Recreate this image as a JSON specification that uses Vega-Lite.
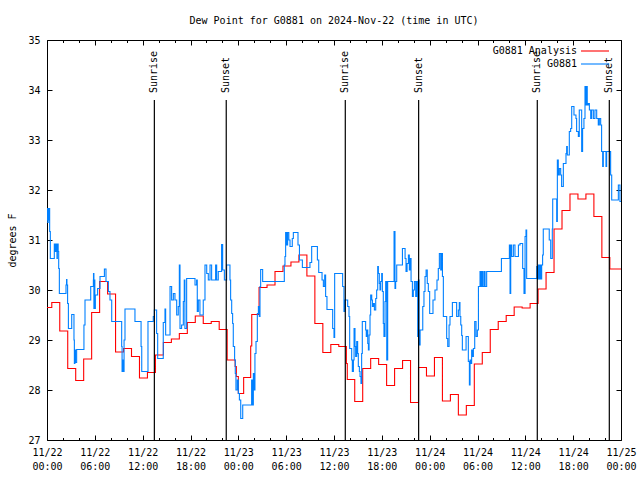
{
  "$schema": "https://vega.github.io/schema/vega-lite/v6.json",
  "width": 574,
  "height": 400,
  "autosize": "none",
  "padding": {"left": 47, "top": 40, "right": 19, "bottom": 40},
  "background": "white",
  "title": {"text": "Dew Point for G0881 on 2024-Nov-22 (time in UTC)", "font": "DejaVu Sans Mono", "fontSize": 10, "fontWeight": "normal", "color": "black", "anchor": "middle", "offset": 9},
  "config": {
    "view": {"stroke": "black", "strokeWidth": 1},
    "axis": {"labelFont": "DejaVu Sans Mono", "labelFontSize": 10, "labelColor": "black", "tickColor": "black", "titleFont": "DejaVu Sans Mono", "titleFontSize": 10, "titleFontWeight": "normal", "titleColor": "black", "domain": false, "grid": false},
    "legend": {"labelFont": "DejaVu Sans Mono", "labelFontSize": 10, "labelColor": "black"}
  },
  "datasets": {
    "analysis": [
      {"time": "2024-11-22T00:00Z", "dewpoint": 29.65},
      {"time": "2024-11-22T00:36Z", "dewpoint": 29.75},
      {"time": "2024-11-22T01:36Z", "dewpoint": 29.18},
      {"time": "2024-11-22T02:36Z", "dewpoint": 28.43},
      {"time": "2024-11-22T03:36Z", "dewpoint": 28.19},
      {"time": "2024-11-22T04:36Z", "dewpoint": 28.62},
      {"time": "2024-11-22T05:36Z", "dewpoint": 29.55},
      {"time": "2024-11-22T06:36Z", "dewpoint": 30.17},
      {"time": "2024-11-22T07:36Z", "dewpoint": 29.92},
      {"time": "2024-11-22T08:36Z", "dewpoint": 28.76},
      {"time": "2024-11-22T09:36Z", "dewpoint": 28.83},
      {"time": "2024-11-22T10:36Z", "dewpoint": 28.67},
      {"time": "2024-11-22T11:36Z", "dewpoint": 28.24},
      {"time": "2024-11-22T12:36Z", "dewpoint": 28.35},
      {"time": "2024-11-22T13:36Z", "dewpoint": 28.70},
      {"time": "2024-11-22T14:36Z", "dewpoint": 28.95},
      {"time": "2024-11-22T15:36Z", "dewpoint": 29.02},
      {"time": "2024-11-22T16:36Z", "dewpoint": 29.13},
      {"time": "2024-11-22T17:36Z", "dewpoint": 29.35},
      {"time": "2024-11-22T18:36Z", "dewpoint": 29.48},
      {"time": "2024-11-22T19:36Z", "dewpoint": 29.33},
      {"time": "2024-11-22T20:36Z", "dewpoint": 29.37},
      {"time": "2024-11-22T21:36Z", "dewpoint": 29.21},
      {"time": "2024-11-22T22:36Z", "dewpoint": 28.60},
      {"time": "2024-11-22T23:36Z", "dewpoint": 28.47},
      {"time": "2024-11-22T23:45Z", "dewpoint": 28.27},
      {"time": "2024-11-23T00:00Z", "dewpoint": 27.93},
      {"time": "2024-11-23T00:40Z", "dewpoint": 28.25},
      {"time": "2024-11-23T01:33Z", "dewpoint": 28.88},
      {"time": "2024-11-23T01:41Z", "dewpoint": 29.51},
      {"time": "2024-11-23T02:36Z", "dewpoint": 30.05},
      {"time": "2024-11-23T03:36Z", "dewpoint": 30.10},
      {"time": "2024-11-23T04:36Z", "dewpoint": 30.37},
      {"time": "2024-11-23T05:36Z", "dewpoint": 30.48},
      {"time": "2024-11-23T06:36Z", "dewpoint": 30.56},
      {"time": "2024-11-23T07:36Z", "dewpoint": 30.70},
      {"time": "2024-11-23T08:36Z", "dewpoint": 30.28},
      {"time": "2024-11-23T09:36Z", "dewpoint": 29.33},
      {"time": "2024-11-23T10:36Z", "dewpoint": 28.75},
      {"time": "2024-11-23T11:36Z", "dewpoint": 28.91},
      {"time": "2024-11-23T12:36Z", "dewpoint": 28.87},
      {"time": "2024-11-23T13:33Z", "dewpoint": 28.53},
      {"time": "2024-11-23T13:40Z", "dewpoint": 28.21},
      {"time": "2024-11-23T14:36Z", "dewpoint": 27.77},
      {"time": "2024-11-23T15:36Z", "dewpoint": 28.43},
      {"time": "2024-11-23T16:36Z", "dewpoint": 28.63},
      {"time": "2024-11-23T17:36Z", "dewpoint": 28.51},
      {"time": "2024-11-23T18:36Z", "dewpoint": 28.09},
      {"time": "2024-11-23T19:36Z", "dewpoint": 28.43},
      {"time": "2024-11-23T20:36Z", "dewpoint": 28.59},
      {"time": "2024-11-23T21:36Z", "dewpoint": 27.75},
      {"time": "2024-11-23T22:36Z", "dewpoint": 28.45},
      {"time": "2024-11-23T23:36Z", "dewpoint": 28.28},
      {"time": "2024-11-24T00:36Z", "dewpoint": 28.65},
      {"time": "2024-11-24T01:36Z", "dewpoint": 27.78},
      {"time": "2024-11-24T02:36Z", "dewpoint": 27.91},
      {"time": "2024-11-24T03:36Z", "dewpoint": 27.50},
      {"time": "2024-11-24T04:36Z", "dewpoint": 27.69},
      {"time": "2024-11-24T05:36Z", "dewpoint": 28.52},
      {"time": "2024-11-24T06:36Z", "dewpoint": 28.75},
      {"time": "2024-11-24T07:36Z", "dewpoint": 29.21},
      {"time": "2024-11-24T08:36Z", "dewpoint": 29.37},
      {"time": "2024-11-24T09:36Z", "dewpoint": 29.49},
      {"time": "2024-11-24T10:36Z", "dewpoint": 29.66},
      {"time": "2024-11-24T11:36Z", "dewpoint": 29.64},
      {"time": "2024-11-24T12:36Z", "dewpoint": 29.73},
      {"time": "2024-11-24T13:36Z", "dewpoint": 30.02},
      {"time": "2024-11-24T14:36Z", "dewpoint": 30.35},
      {"time": "2024-11-24T15:36Z", "dewpoint": 31.22},
      {"time": "2024-11-24T16:36Z", "dewpoint": 31.59},
      {"time": "2024-11-24T17:36Z", "dewpoint": 31.92},
      {"time": "2024-11-24T18:36Z", "dewpoint": 31.82},
      {"time": "2024-11-24T19:36Z", "dewpoint": 31.92},
      {"time": "2024-11-24T20:36Z", "dewpoint": 31.47},
      {"time": "2024-11-24T21:36Z", "dewpoint": 30.65},
      {"time": "2024-11-24T22:36Z", "dewpoint": 30.42},
      {"time": "2024-11-25T00:00Z", "dewpoint": 30.42}
    ],
    "observed": [
      {"time": "2024-11-22T00:00Z", "dewpoint": 31.4},
      {"time": "2024-11-22T00:03Z", "dewpoint": 31.63},
      {"time": "2024-11-22T00:06Z", "dewpoint": 31.35},
      {"time": "2024-11-22T00:09Z", "dewpoint": 31.63},
      {"time": "2024-11-22T00:12Z", "dewpoint": 31.4},
      {"time": "2024-11-22T00:15Z", "dewpoint": 31.63},
      {"time": "2024-11-22T00:20Z", "dewpoint": 31.17},
      {"time": "2024-11-22T00:25Z", "dewpoint": 30.63},
      {"time": "2024-11-22T00:55Z", "dewpoint": 30.92},
      {"time": "2024-11-22T01:02Z", "dewpoint": 30.77},
      {"time": "2024-11-22T01:08Z", "dewpoint": 30.92},
      {"time": "2024-11-22T01:15Z", "dewpoint": 30.63},
      {"time": "2024-11-22T01:18Z", "dewpoint": 30.92},
      {"time": "2024-11-22T01:24Z", "dewpoint": 30.77},
      {"time": "2024-11-22T01:28Z", "dewpoint": 30.43},
      {"time": "2024-11-22T01:33Z", "dewpoint": 29.93},
      {"time": "2024-11-22T02:23Z", "dewpoint": 30.1},
      {"time": "2024-11-22T02:27Z", "dewpoint": 30.21},
      {"time": "2024-11-22T02:30Z", "dewpoint": 30.1},
      {"time": "2024-11-22T02:35Z", "dewpoint": 29.73},
      {"time": "2024-11-22T02:41Z", "dewpoint": 29.23},
      {"time": "2024-11-22T03:06Z", "dewpoint": 29.51},
      {"time": "2024-11-22T03:23Z", "dewpoint": 29.0},
      {"time": "2024-11-22T03:26Z", "dewpoint": 28.53},
      {"time": "2024-11-22T03:30Z", "dewpoint": 28.8},
      {"time": "2024-11-22T03:34Z", "dewpoint": 28.55},
      {"time": "2024-11-22T03:43Z", "dewpoint": 28.81},
      {"time": "2024-11-22T04:38Z", "dewpoint": 29.3},
      {"time": "2024-11-22T04:46Z", "dewpoint": 29.8},
      {"time": "2024-11-22T05:29Z", "dewpoint": 30.07},
      {"time": "2024-11-22T05:49Z", "dewpoint": 30.2},
      {"time": "2024-11-22T05:50Z", "dewpoint": 30.33},
      {"time": "2024-11-22T05:53Z", "dewpoint": 29.63},
      {"time": "2024-11-22T05:56Z", "dewpoint": 30.2},
      {"time": "2024-11-22T06:00Z", "dewpoint": 29.63},
      {"time": "2024-11-22T06:04Z", "dewpoint": 29.9},
      {"time": "2024-11-22T06:21Z", "dewpoint": 30.03},
      {"time": "2024-11-22T06:39Z", "dewpoint": 30.27},
      {"time": "2024-11-22T07:12Z", "dewpoint": 30.42},
      {"time": "2024-11-22T07:24Z", "dewpoint": 30.17},
      {"time": "2024-11-22T07:42Z", "dewpoint": 29.97},
      {"time": "2024-11-22T07:54Z", "dewpoint": 29.8},
      {"time": "2024-11-22T08:07Z", "dewpoint": 29.37},
      {"time": "2024-11-22T09:22Z", "dewpoint": 28.87},
      {"time": "2024-11-22T09:25Z", "dewpoint": 28.37},
      {"time": "2024-11-22T09:30Z", "dewpoint": 28.6},
      {"time": "2024-11-22T09:35Z", "dewpoint": 28.37},
      {"time": "2024-11-22T09:40Z", "dewpoint": 29.0},
      {"time": "2024-11-22T09:47Z", "dewpoint": 29.62},
      {"time": "2024-11-22T11:02Z", "dewpoint": 29.37},
      {"time": "2024-11-22T11:48Z", "dewpoint": 28.87},
      {"time": "2024-11-22T11:53Z", "dewpoint": 28.37},
      {"time": "2024-11-22T12:40Z", "dewpoint": 29.37},
      {"time": "2024-11-22T13:20Z", "dewpoint": 29.47},
      {"time": "2024-11-22T13:28Z", "dewpoint": 29.6},
      {"time": "2024-11-22T13:45Z", "dewpoint": 29.13},
      {"time": "2024-11-22T13:53Z", "dewpoint": 28.63},
      {"time": "2024-11-22T14:35Z", "dewpoint": 29.35},
      {"time": "2024-11-22T14:48Z", "dewpoint": 29.62},
      {"time": "2024-11-22T14:53Z", "dewpoint": 29.1},
      {"time": "2024-11-22T15:26Z", "dewpoint": 30.07},
      {"time": "2024-11-22T15:38Z", "dewpoint": 29.8},
      {"time": "2024-11-22T15:51Z", "dewpoint": 29.93},
      {"time": "2024-11-22T16:03Z", "dewpoint": 29.8},
      {"time": "2024-11-22T16:16Z", "dewpoint": 29.5},
      {"time": "2024-11-22T16:28Z", "dewpoint": 29.67},
      {"time": "2024-11-22T16:36Z", "dewpoint": 30.5},
      {"time": "2024-11-22T16:41Z", "dewpoint": 29.23},
      {"time": "2024-11-22T16:53Z", "dewpoint": 29.3},
      {"time": "2024-11-22T17:06Z", "dewpoint": 29.77},
      {"time": "2024-11-22T17:13Z", "dewpoint": 30.2},
      {"time": "2024-11-22T17:18Z", "dewpoint": 29.23},
      {"time": "2024-11-22T17:31Z", "dewpoint": 30.23},
      {"time": "2024-11-22T18:34Z", "dewpoint": 30.1},
      {"time": "2024-11-22T18:46Z", "dewpoint": 30.2},
      {"time": "2024-11-22T18:51Z", "dewpoint": 29.57},
      {"time": "2024-11-22T18:59Z", "dewpoint": 29.8},
      {"time": "2024-11-22T19:11Z", "dewpoint": 29.5},
      {"time": "2024-11-22T19:36Z", "dewpoint": 29.8},
      {"time": "2024-11-22T19:49Z", "dewpoint": 30.5},
      {"time": "2024-11-22T20:02Z", "dewpoint": 30.33},
      {"time": "2024-11-22T20:14Z", "dewpoint": 30.2},
      {"time": "2024-11-22T20:27Z", "dewpoint": 30.5},
      {"time": "2024-11-22T20:39Z", "dewpoint": 30.2},
      {"time": "2024-11-22T21:09Z", "dewpoint": 30.5},
      {"time": "2024-11-22T21:17Z", "dewpoint": 30.2},
      {"time": "2024-11-22T21:29Z", "dewpoint": 30.37},
      {"time": "2024-11-22T21:54Z", "dewpoint": 30.91},
      {"time": "2024-11-22T22:02Z", "dewpoint": 30.4},
      {"time": "2024-11-22T22:15Z", "dewpoint": 30.2},
      {"time": "2024-11-22T22:32Z", "dewpoint": 30.5},
      {"time": "2024-11-22T22:57Z", "dewpoint": 30.2},
      {"time": "2024-11-22T23:02Z", "dewpoint": 29.8},
      {"time": "2024-11-22T23:10Z", "dewpoint": 29.53},
      {"time": "2024-11-22T23:17Z", "dewpoint": 29.33},
      {"time": "2024-11-22T23:22Z", "dewpoint": 28.87},
      {"time": "2024-11-22T23:32Z", "dewpoint": 28.6},
      {"time": "2024-11-22T23:37Z", "dewpoint": 28.33},
      {"time": "2024-11-22T23:42Z", "dewpoint": 28.0},
      {"time": "2024-11-22T23:52Z", "dewpoint": 28.2},
      {"time": "2024-11-23T00:00Z", "dewpoint": 27.93},
      {"time": "2024-11-23T00:08Z", "dewpoint": 27.8},
      {"time": "2024-11-23T00:18Z", "dewpoint": 27.43},
      {"time": "2024-11-23T00:33Z", "dewpoint": 27.7},
      {"time": "2024-11-23T01:40Z", "dewpoint": 28.2},
      {"time": "2024-11-23T01:45Z", "dewpoint": 27.7},
      {"time": "2024-11-23T01:53Z", "dewpoint": 28.33},
      {"time": "2024-11-23T02:00Z", "dewpoint": 28.0},
      {"time": "2024-11-23T02:05Z", "dewpoint": 28.73},
      {"time": "2024-11-23T02:13Z", "dewpoint": 28.97},
      {"time": "2024-11-23T02:23Z", "dewpoint": 29.53},
      {"time": "2024-11-23T02:31Z", "dewpoint": 29.67},
      {"time": "2024-11-23T02:38Z", "dewpoint": 29.47},
      {"time": "2024-11-23T02:43Z", "dewpoint": 30.07},
      {"time": "2024-11-23T02:48Z", "dewpoint": 30.41},
      {"time": "2024-11-23T03:03Z", "dewpoint": 30.17},
      {"time": "2024-11-23T05:46Z", "dewpoint": 30.5},
      {"time": "2024-11-23T05:51Z", "dewpoint": 30.67},
      {"time": "2024-11-23T05:56Z", "dewpoint": 31.15},
      {"time": "2024-11-23T06:04Z", "dewpoint": 30.9},
      {"time": "2024-11-23T06:11Z", "dewpoint": 31.15},
      {"time": "2024-11-23T06:20Z", "dewpoint": 31.0},
      {"time": "2024-11-23T06:29Z", "dewpoint": 30.87},
      {"time": "2024-11-23T06:46Z", "dewpoint": 31.03},
      {"time": "2024-11-23T06:54Z", "dewpoint": 31.15},
      {"time": "2024-11-23T07:29Z", "dewpoint": 30.9},
      {"time": "2024-11-23T07:40Z", "dewpoint": 30.6},
      {"time": "2024-11-23T08:02Z", "dewpoint": 30.45},
      {"time": "2024-11-23T08:59Z", "dewpoint": 30.55},
      {"time": "2024-11-23T09:12Z", "dewpoint": 30.87},
      {"time": "2024-11-23T09:55Z", "dewpoint": 30.6},
      {"time": "2024-11-23T10:05Z", "dewpoint": 30.35},
      {"time": "2024-11-23T10:30Z", "dewpoint": 30.2},
      {"time": "2024-11-23T10:40Z", "dewpoint": 30.07},
      {"time": "2024-11-23T10:50Z", "dewpoint": 30.3},
      {"time": "2024-11-23T10:57Z", "dewpoint": 29.87},
      {"time": "2024-11-23T11:07Z", "dewpoint": 29.61},
      {"time": "2024-11-23T11:50Z", "dewpoint": 29.23},
      {"time": "2024-11-23T12:00Z", "dewpoint": 29.05},
      {"time": "2024-11-23T12:05Z", "dewpoint": 30.33},
      {"time": "2024-11-23T13:05Z", "dewpoint": 30.07},
      {"time": "2024-11-23T13:15Z", "dewpoint": 29.57},
      {"time": "2024-11-23T13:23Z", "dewpoint": 29.8},
      {"time": "2024-11-23T13:43Z", "dewpoint": 29.67},
      {"time": "2024-11-23T13:53Z", "dewpoint": 29.47},
      {"time": "2024-11-23T13:58Z", "dewpoint": 28.83},
      {"time": "2024-11-23T14:13Z", "dewpoint": 28.6},
      {"time": "2024-11-23T14:18Z", "dewpoint": 28.37},
      {"time": "2024-11-23T14:26Z", "dewpoint": 28.6},
      {"time": "2024-11-23T14:31Z", "dewpoint": 29.23},
      {"time": "2024-11-23T14:38Z", "dewpoint": 28.87},
      {"time": "2024-11-23T14:43Z", "dewpoint": 28.67},
      {"time": "2024-11-23T14:51Z", "dewpoint": 28.97},
      {"time": "2024-11-23T14:58Z", "dewpoint": 28.73},
      {"time": "2024-11-23T15:03Z", "dewpoint": 28.47},
      {"time": "2024-11-23T15:11Z", "dewpoint": 28.37},
      {"time": "2024-11-23T15:16Z", "dewpoint": 28.27},
      {"time": "2024-11-23T15:23Z", "dewpoint": 28.13},
      {"time": "2024-11-23T15:28Z", "dewpoint": 28.73},
      {"time": "2024-11-23T15:33Z", "dewpoint": 29.37},
      {"time": "2024-11-23T15:58Z", "dewpoint": 29.2},
      {"time": "2024-11-23T16:03Z", "dewpoint": 29.07},
      {"time": "2024-11-23T16:08Z", "dewpoint": 29.2},
      {"time": "2024-11-23T16:14Z", "dewpoint": 28.93},
      {"time": "2024-11-23T16:19Z", "dewpoint": 28.8},
      {"time": "2024-11-23T16:24Z", "dewpoint": 29.1},
      {"time": "2024-11-23T16:31Z", "dewpoint": 29.5},
      {"time": "2024-11-23T16:36Z", "dewpoint": 29.9},
      {"time": "2024-11-23T16:44Z", "dewpoint": 29.8},
      {"time": "2024-11-23T16:49Z", "dewpoint": 29.67},
      {"time": "2024-11-23T16:56Z", "dewpoint": 29.73},
      {"time": "2024-11-23T17:04Z", "dewpoint": 29.6},
      {"time": "2024-11-23T17:14Z", "dewpoint": 29.83},
      {"time": "2024-11-23T17:21Z", "dewpoint": 30.0},
      {"time": "2024-11-23T17:29Z", "dewpoint": 30.47},
      {"time": "2024-11-23T17:34Z", "dewpoint": 30.33},
      {"time": "2024-11-23T17:41Z", "dewpoint": 30.13},
      {"time": "2024-11-23T17:46Z", "dewpoint": 30.0},
      {"time": "2024-11-23T17:51Z", "dewpoint": 30.17},
      {"time": "2024-11-23T17:59Z", "dewpoint": 30.33},
      {"time": "2024-11-23T18:04Z", "dewpoint": 29.97},
      {"time": "2024-11-23T18:11Z", "dewpoint": 29.33},
      {"time": "2024-11-23T18:16Z", "dewpoint": 29.07},
      {"time": "2024-11-23T18:24Z", "dewpoint": 29.77},
      {"time": "2024-11-23T18:29Z", "dewpoint": 30.17},
      {"time": "2024-11-23T18:37Z", "dewpoint": 28.6},
      {"time": "2024-11-23T18:44Z", "dewpoint": 30.17},
      {"time": "2024-11-23T19:32Z", "dewpoint": 31.17},
      {"time": "2024-11-23T19:39Z", "dewpoint": 30.03},
      {"time": "2024-11-23T19:44Z", "dewpoint": 30.17},
      {"time": "2024-11-23T19:52Z", "dewpoint": 30.5},
      {"time": "2024-11-23T20:35Z", "dewpoint": 30.83},
      {"time": "2024-11-23T20:55Z", "dewpoint": 30.63},
      {"time": "2024-11-23T21:02Z", "dewpoint": 30.37},
      {"time": "2024-11-23T21:10Z", "dewpoint": 30.53},
      {"time": "2024-11-23T21:20Z", "dewpoint": 30.7},
      {"time": "2024-11-23T21:27Z", "dewpoint": 30.4},
      {"time": "2024-11-23T21:35Z", "dewpoint": 30.63},
      {"time": "2024-11-23T21:40Z", "dewpoint": 30.17},
      {"time": "2024-11-23T21:50Z", "dewpoint": 29.87},
      {"time": "2024-11-23T21:57Z", "dewpoint": 30.0},
      {"time": "2024-11-23T22:05Z", "dewpoint": 30.17},
      {"time": "2024-11-23T22:15Z", "dewpoint": 29.87},
      {"time": "2024-11-23T22:22Z", "dewpoint": 30.17},
      {"time": "2024-11-23T22:30Z", "dewpoint": 29.07},
      {"time": "2024-11-23T22:35Z", "dewpoint": 30.2},
      {"time": "2024-11-23T22:40Z", "dewpoint": 28.9},
      {"time": "2024-11-23T22:48Z", "dewpoint": 29.2},
      {"time": "2024-11-23T23:08Z", "dewpoint": 29.67},
      {"time": "2024-11-23T23:17Z", "dewpoint": 29.97},
      {"time": "2024-11-23T23:25Z", "dewpoint": 30.27},
      {"time": "2024-11-23T23:33Z", "dewpoint": 30.4},
      {"time": "2024-11-23T23:42Z", "dewpoint": 30.13},
      {"time": "2024-11-23T23:50Z", "dewpoint": 29.97},
      {"time": "2024-11-24T00:00Z", "dewpoint": 29.53},
      {"time": "2024-11-24T00:25Z", "dewpoint": 29.8},
      {"time": "2024-11-24T00:40Z", "dewpoint": 30.0},
      {"time": "2024-11-24T00:55Z", "dewpoint": 30.2},
      {"time": "2024-11-24T01:05Z", "dewpoint": 30.43},
      {"time": "2024-11-24T01:13Z", "dewpoint": 30.73},
      {"time": "2024-11-24T01:23Z", "dewpoint": 30.4},
      {"time": "2024-11-24T01:30Z", "dewpoint": 30.73},
      {"time": "2024-11-24T01:36Z", "dewpoint": 30.27},
      {"time": "2024-11-24T01:43Z", "dewpoint": 29.47},
      {"time": "2024-11-24T02:08Z", "dewpoint": 29.03},
      {"time": "2024-11-24T02:16Z", "dewpoint": 28.87},
      {"time": "2024-11-24T02:26Z", "dewpoint": 29.3},
      {"time": "2024-11-24T02:33Z", "dewpoint": 29.47},
      {"time": "2024-11-24T02:51Z", "dewpoint": 29.75},
      {"time": "2024-11-24T03:23Z", "dewpoint": 29.47},
      {"time": "2024-11-24T03:36Z", "dewpoint": 29.6},
      {"time": "2024-11-24T03:43Z", "dewpoint": 29.75},
      {"time": "2024-11-24T03:48Z", "dewpoint": 29.47},
      {"time": "2024-11-24T03:54Z", "dewpoint": 29.3},
      {"time": "2024-11-24T04:01Z", "dewpoint": 29.09},
      {"time": "2024-11-24T04:06Z", "dewpoint": 28.8},
      {"time": "2024-11-24T04:34Z", "dewpoint": 29.07},
      {"time": "2024-11-24T04:51Z", "dewpoint": 28.57},
      {"time": "2024-11-24T04:59Z", "dewpoint": 28.1},
      {"time": "2024-11-24T05:04Z", "dewpoint": 28.6},
      {"time": "2024-11-24T05:09Z", "dewpoint": 28.53},
      {"time": "2024-11-24T05:16Z", "dewpoint": 28.8},
      {"time": "2024-11-24T05:24Z", "dewpoint": 28.67},
      {"time": "2024-11-24T05:29Z", "dewpoint": 28.83},
      {"time": "2024-11-24T05:39Z", "dewpoint": 29.37},
      {"time": "2024-11-24T05:49Z", "dewpoint": 29.07},
      {"time": "2024-11-24T05:59Z", "dewpoint": 29.2},
      {"time": "2024-11-24T06:07Z", "dewpoint": 30.07},
      {"time": "2024-11-24T06:19Z", "dewpoint": 30.37},
      {"time": "2024-11-24T06:24Z", "dewpoint": 30.07},
      {"time": "2024-11-24T06:32Z", "dewpoint": 30.37},
      {"time": "2024-11-24T06:39Z", "dewpoint": 30.07},
      {"time": "2024-11-24T06:49Z", "dewpoint": 30.37},
      {"time": "2024-11-24T06:57Z", "dewpoint": 30.07},
      {"time": "2024-11-24T07:09Z", "dewpoint": 30.37},
      {"time": "2024-11-24T09:00Z", "dewpoint": 30.63},
      {"time": "2024-11-24T10:00Z", "dewpoint": 30.9},
      {"time": "2024-11-24T10:05Z", "dewpoint": 29.93},
      {"time": "2024-11-24T10:10Z", "dewpoint": 30.9},
      {"time": "2024-11-24T10:17Z", "dewpoint": 30.67},
      {"time": "2024-11-24T10:30Z", "dewpoint": 30.9},
      {"time": "2024-11-24T10:42Z", "dewpoint": 30.67},
      {"time": "2024-11-24T11:08Z", "dewpoint": 30.9},
      {"time": "2024-11-24T11:20Z", "dewpoint": 30.93},
      {"time": "2024-11-24T11:40Z", "dewpoint": 30.43},
      {"time": "2024-11-24T11:50Z", "dewpoint": 29.93},
      {"time": "2024-11-24T11:58Z", "dewpoint": 31.07},
      {"time": "2024-11-24T12:05Z", "dewpoint": 31.2},
      {"time": "2024-11-24T12:10Z", "dewpoint": 30.23},
      {"time": "2024-11-24T13:26Z", "dewpoint": 30.47},
      {"time": "2024-11-24T13:32Z", "dewpoint": 30.22},
      {"time": "2024-11-24T13:38Z", "dewpoint": 30.5},
      {"time": "2024-11-24T13:44Z", "dewpoint": 30.22},
      {"time": "2024-11-24T13:50Z", "dewpoint": 30.5},
      {"time": "2024-11-24T13:56Z", "dewpoint": 30.22},
      {"time": "2024-11-24T14:03Z", "dewpoint": 30.5},
      {"time": "2024-11-24T14:10Z", "dewpoint": 30.7},
      {"time": "2024-11-24T14:15Z", "dewpoint": 31.22},
      {"time": "2024-11-24T15:00Z", "dewpoint": 31.0},
      {"time": "2024-11-24T15:11Z", "dewpoint": 30.63},
      {"time": "2024-11-24T15:23Z", "dewpoint": 31.22},
      {"time": "2024-11-24T15:26Z", "dewpoint": 31.82},
      {"time": "2024-11-24T15:56Z", "dewpoint": 31.37},
      {"time": "2024-11-24T16:01Z", "dewpoint": 32.6},
      {"time": "2024-11-24T16:08Z", "dewpoint": 32.3},
      {"time": "2024-11-24T16:16Z", "dewpoint": 32.43},
      {"time": "2024-11-24T16:26Z", "dewpoint": 32.3},
      {"time": "2024-11-24T16:33Z", "dewpoint": 32.07},
      {"time": "2024-11-24T16:46Z", "dewpoint": 32.53},
      {"time": "2024-11-24T17:06Z", "dewpoint": 32.73},
      {"time": "2024-11-24T17:11Z", "dewpoint": 32.87},
      {"time": "2024-11-24T17:16Z", "dewpoint": 32.7},
      {"time": "2024-11-24T17:31Z", "dewpoint": 33.17},
      {"time": "2024-11-24T17:41Z", "dewpoint": 33.23},
      {"time": "2024-11-24T17:49Z", "dewpoint": 33.67},
      {"time": "2024-11-24T18:06Z", "dewpoint": 33.5},
      {"time": "2024-11-24T18:21Z", "dewpoint": 33.43},
      {"time": "2024-11-24T18:26Z", "dewpoint": 33.17},
      {"time": "2024-11-24T18:39Z", "dewpoint": 33.07},
      {"time": "2024-11-24T18:46Z", "dewpoint": 33.6},
      {"time": "2024-11-24T19:04Z", "dewpoint": 32.77},
      {"time": "2024-11-24T19:11Z", "dewpoint": 33.23},
      {"time": "2024-11-24T19:21Z", "dewpoint": 33.43},
      {"time": "2024-11-24T19:29Z", "dewpoint": 34.07},
      {"time": "2024-11-24T19:35Z", "dewpoint": 33.7},
      {"time": "2024-11-24T19:41Z", "dewpoint": 34.07},
      {"time": "2024-11-24T19:46Z", "dewpoint": 33.7},
      {"time": "2024-11-24T19:54Z", "dewpoint": 33.73},
      {"time": "2024-11-24T20:02Z", "dewpoint": 33.6},
      {"time": "2024-11-24T20:12Z", "dewpoint": 33.43},
      {"time": "2024-11-24T20:19Z", "dewpoint": 33.6},
      {"time": "2024-11-24T20:32Z", "dewpoint": 33.43},
      {"time": "2024-11-24T20:44Z", "dewpoint": 33.6},
      {"time": "2024-11-24T20:57Z", "dewpoint": 33.43},
      {"time": "2024-11-24T21:09Z", "dewpoint": 33.3},
      {"time": "2024-11-24T21:17Z", "dewpoint": 33.43},
      {"time": "2024-11-24T21:27Z", "dewpoint": 33.3},
      {"time": "2024-11-24T21:34Z", "dewpoint": 32.77},
      {"time": "2024-11-24T21:42Z", "dewpoint": 32.47},
      {"time": "2024-11-24T21:47Z", "dewpoint": 32.77},
      {"time": "2024-11-24T22:07Z", "dewpoint": 32.47},
      {"time": "2024-11-24T22:12Z", "dewpoint": 32.77},
      {"time": "2024-11-24T22:42Z", "dewpoint": 32.3},
      {"time": "2024-11-24T22:50Z", "dewpoint": 31.8},
      {"time": "2024-11-24T23:40Z", "dewpoint": 32.1},
      {"time": "2024-11-24T23:52Z", "dewpoint": 31.77},
      {"time": "2024-11-25T00:00Z", "dewpoint": 31.77}
    ],
    "sun": [
      {"time": "2024-11-22T13:28Z", "event": "Sunrise"},
      {"time": "2024-11-22T22:29Z", "event": "Sunset"},
      {"time": "2024-11-23T13:25Z", "event": "Sunrise"},
      {"time": "2024-11-23T22:37Z", "event": "Sunset"},
      {"time": "2024-11-24T13:30Z", "event": "Sunrise"},
      {"time": "2024-11-24T22:32Z", "event": "Sunset"}
    ]
  },
  "layer": [
    {
      "data": {"name": "analysis"},
      "mark": {"type": "line", "interpolate": "step-after", "strokeWidth": 1.1, "clip": true},
      "encoding": {
        "x": {"field": "time", "type": "temporal",
          "scale": {"type": "utc", "domain": [1732233600000, 1732492800000], "nice": false},
          "axis": {"orient": "bottom", "title": null,
            "values": [1732233600000,1732240800000,1732248000000,1732255200000,1732262400000,1732269600000,1732276800000,1732284000000,1732291200000,1732298400000,1732305600000,1732312800000,1732320000000,1732327200000,1732334400000,1732341600000,1732348800000,1732356000000,1732363200000,1732370400000,1732377600000,1732384800000,1732392000000,1732399200000,1732406400000,1732413600000,1732420800000,1732428000000,1732435200000,1732442400000,1732449600000,1732456800000,1732464000000,1732471200000,1732478400000,1732485600000,1732492800000],
            "tickSize": {"condition": {"test": "utchours(datum.value) % 6 === 0", "value": -5}, "value": -2.5},
            "labelExpr": "utchours(datum.value) % 6 === 0 ? [utcFormat(datum.value, '%m/%d'), utcFormat(datum.value, '%H:%M')] : ''",
            "labelPadding": 12, "labelBaseline": "top", "labelLineHeight": 14, "labelFlush": false, "labelOverlap": false, "labelBound": false}
        },
        "y": {"field": "dewpoint", "type": "quantitative",
          "scale": {"domain": [27, 35], "nice": false, "zero": false},
          "axis": {"orient": "left", "title": "degrees F", "values": [27,28,29,30,31,32,33,34,35], "tickSize": -5, "labelPadding": 12, "titlePadding": 10, "labelFlush": false, "labelOverlap": false}
        },
        "color": {"datum": "G0881 Analysis", "type": "nominal",
          "scale": {"domain": ["G0881 Analysis", "G0881"], "range": ["#ff0000", "#0080ff"]},
          "legend": {"orient": "none", "legendX": 543, "legendY": 6, "title": null, "symbolType": "M-7,0H7", "symbolSize": 16, "symbolStrokeWidth": 1.1, "labelAlign": "right", "labelOffset": -23, "rowPadding": 3, "padding": 0}
        }
      }
    },
    {
      "data": {"name": "observed"},
      "mark": {"type": "line", "interpolate": "step-after", "strokeWidth": 1.1, "clip": true},
      "encoding": {
        "x": {"field": "time", "type": "temporal", "axis": null},
        "y": {"field": "dewpoint", "type": "quantitative", "axis": null},
        "color": {"datum": "G0881", "type": "nominal"}
      }
    },
    {
      "data": {"name": "sun"},
      "mark": {"type": "rule", "color": "black", "strokeWidth": 1.2},
      "encoding": {
        "x": {"field": "time", "type": "temporal",
          "axis": {"orient": "top", "title": null, "labels": false,
            "values": [1732233600000,1732240800000,1732248000000,1732255200000,1732262400000,1732269600000,1732276800000,1732284000000,1732291200000,1732298400000,1732305600000,1732312800000,1732320000000,1732327200000,1732334400000,1732341600000,1732348800000,1732356000000,1732363200000,1732370400000,1732377600000,1732384800000,1732392000000,1732399200000,1732406400000,1732413600000,1732420800000,1732428000000,1732435200000,1732442400000,1732449600000,1732456800000,1732464000000,1732471200000,1732478400000,1732485600000,1732492800000],
            "tickSize": {"condition": {"test": "utchours(datum.value) % 6 === 0", "value": -5}, "value": -2.5}}
        },
        "y": {"datum": 33.8, "type": "quantitative",
          "axis": {"orient": "right", "title": null, "labels": false, "values": [27,28,29,30,31,32,33,34,35], "tickSize": -5}},
        "y2": {"datum": 27}
      }
    },
    {
      "data": {"name": "sun"},
      "mark": {"type": "text", "angle": 270, "align": "left", "baseline": "middle", "font": "DejaVu Sans Mono", "fontSize": 10, "color": "black"},
      "encoding": {
        "x": {"field": "time", "type": "temporal", "axis": null},
        "y": {"datum": 33.94, "type": "quantitative", "axis": null},
        "text": {"field": "event"}
      }
    }
  ],
  "resolve": {"axis": {"x": "independent", "y": "independent"}}
}
